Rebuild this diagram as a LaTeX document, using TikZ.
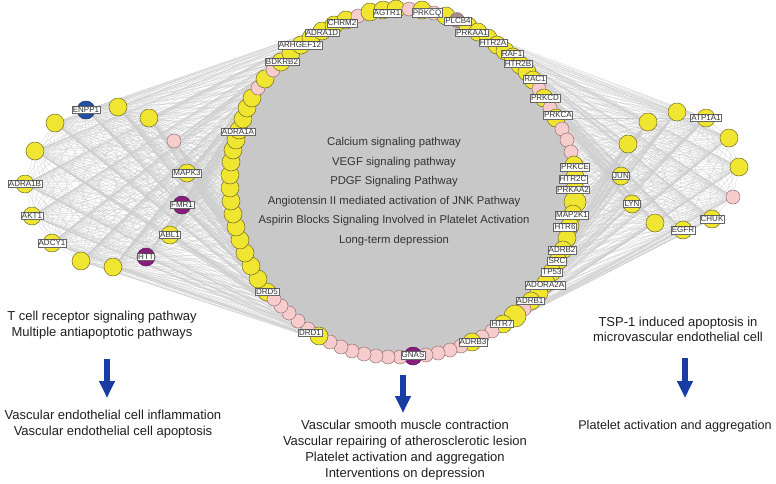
\documentclass[tikz,border=0pt]{standalone}
\usepackage{fontspec}
\setmainfont{Liberation Sans}
\usetikzlibrary{arrows.meta}

\pgfdeclarelayer{edges}
\pgfdeclarelayer{hub}
\pgfsetlayers{edges,hub,main}

\definecolor{geneyellow}{RGB}{240,230,50}
\definecolor{yelline}{RGB}{115,108,40}
\definecolor{genepink}{RGB}{246,204,204}
\definecolor{pnkline}{RGB}{150,112,112}
\definecolor{genepurple}{RGB}{135,30,125}
\definecolor{prpline}{RGB}{90,20,80}
\definecolor{geneblue}{RGB}{35,80,160}
\definecolor{bluline}{RGB}{20,45,100}
\definecolor{genegray}{RGB}{165,142,142}
\definecolor{arrowblue}{RGB}{25,60,165}
\definecolor{hubgray}{RGB}{200,200,200}
\definecolor{linkgray}{RGB}{205,205,205}

\tikzset{
  gene/.style={circle, inner sep=0pt, minimum size=18pt, line width=0.5pt},
  yel/.style={gene, draw=yelline, fill=geneyellow},
  bigyel/.style={yel, minimum size=22pt},
  pnk/.style={gene, draw=pnkline, fill=genepink, minimum size=14pt},
  prp/.style={gene, draw=prpline, fill=genepurple},
  blu/.style={gene, draw=bluline, fill=geneblue},
  gry/.style={gene, draw=pnkline, fill=genegray, minimum size=15pt},
  tag/.style={draw=black!60, fill=white, inner sep=0.9pt, line width=0.4pt,
    font=\fontsize{8}{8}\selectfont, text=black!80},
  link/.style={draw=linkgray, line width=0.25pt},
  pathway/.style={align=center, text=black!80, font=\fontsize{11.3}{19.5}\selectfont},
  effect/.style={align=center, text=black!88, font=\fontsize{13}{16}\selectfont},
  bigarrow/.style={draw=arrowblue, line width=5.5pt, -{Triangle[length=17pt,width=15pt]}}
}

\begin{document}
\begin{tikzpicture}[x=1pt,y=-1pt]
\useasboundingbox (0,0) rectangle (776,483);

% central module, clockwise from DRD5
\foreach \x/\y/\s [count=\i] in {
  267/292/yel, 258/279/yel, 251/266/yel, 245/253/yel, 240/240/yel,
  236/227/yel, 233/214/yel, 231/201/yel, 230/188/yel, 230/175/yel,
  231/162/yel, 233/150/yel, 236/140/yel, 239/130/yel, 243/119/yel,
  247/108/yel, 252/98/yel, 258/88/pnk, 265/79/yel, 273/70/pnk,
  281/62/yel, 291/53/yel, 301/45/yel, 311/38/yel, 322/31/yel,
  334/25/yel, 346/20/yel, 358/16/pnk, 370/12/yel, 383/10/yel,
  396/9/yel, 409/9/pnk, 422/10/yel, 434/13/pnk, 446/16/yel,
  457/20/gry, 468/26/yel, 478/32/yel, 488/38/yel, 497/45/yel,
  505/51/yel, 513/57/yel, 520/65/yel, 527/72/yel, 533/80/yel,
  539/89/pnk, 544/98/yel, 550/108/pnk, 556/118/yel, 562/129/pnk,
  567/140/pnk, 571/152/pnk, 574/165/yel, 575/177/yel, 575/189/yel,
  575/202/bigyel, 573/214/yel, 570/226/yel, 567/238/yel, 563/250/yel,
  558/261/yel, 552/272/yel, 546/283/yel, 539/293/yel, 531/301/yel,
  524/309/pnk, 515/316/bigyel, 503/324/yel, 492/331/pnk, 482/337/pnk,
  472/342/yel, 461/346/pnk, 450/350/pnk, 438/353/pnk, 426/355/pnk,
  413/356/prp, 400/357/pnk, 388/357/pnk, 376/356/pnk, 364/354/pnk,
  352/351/pnk, 341/347/pnk, 330/342/pnk, 319/336/yel, 308/329/pnk,
  298/321/pnk, 289/313/pnk, 281/306/pnk, 274/299/pnk}
  \node[\s] (r\i) at (\x,\y) {};

% left module
\node[blu] (l1) at (86,110) {};
\node[yel] (l2) at (118,107) {};
\node[yel] (l3) at (149,118) {};
\node[yel] (l4) at (55,123) {};
\node[yel] (l5) at (35,151) {};
\node[pnk] (l6) at (174,141) {};
\node[yel] (l7) at (25,184) {};
\node[yel] (l8) at (187,173) {};
\node[prp] (l9) at (182,205) {};
\node[yel] (l10) at (32,216) {};
\node[yel] (l11) at (170,235) {};
\node[yel] (l12) at (52,243) {};
\node[prp] (l13) at (146,257) {};
\node[yel] (l14) at (81,261) {};
\node[yel] (l15) at (113,267) {};

% right module
\node[yel] (q1) at (648,122) {};
\node[yel] (q2) at (677,112) {};
\node[yel] (q3) at (706,118) {};
\node[yel] (q4) at (628,144) {};
\node[yel] (q5) at (729,138) {};
\node[yel] (q6) at (739,167) {};
\node[yel] (q7) at (621,176) {};
\node[pnk] (q8) at (733,197) {};
\node[yel] (q9) at (632,204) {};
\node[yel] (q10) at (655,223) {};
\node[yel] (q11) at (683,230) {};
\node[yel] (q12) at (712,219) {};

% gene tags
\node[tag] (tENPP1) at (l1) {ENPP1};
\node[tag] (tADRA1B) at (l7) {ADRA1B};
\node[tag] (tMAPK3) at (l8) {MAPK3};
\node[tag] (tFMR1) at (l9) {FMR1};
\node[tag] (tAKT1) at (l10) {AKT1};
\node[tag] (tABL1) at (l11) {ABL1};
\node[tag] (tADCY1) at (l12) {ADCY1};
\node[tag] (tHTT) at (l13) {HTT};
\node[tag] (tATP1A1) at (q3) {ATP1A1};
\node[tag] (tJUN) at (q7) {JUN};
\node[tag] (tLYN) at (q9) {LYN};
\node[tag] (tEGFR) at (q11) {EGFR};
\node[tag] (tCHUK) at (q12) {CHUK};
\foreach \x/\y/\g in {
  238/132/ADRA1A, 282/62/BDKRB2, 300/45/ARHGEF12, 322/33/ADRA1D,
  342/23/CHRM2, 387/13/AGTR1, 427/13/PRKCQ, 458/21/PLCB4,
  472/33/PRKAA1, 493/43/HTR2A, 512/54/RAF1, 518/64/HTR2B,
  535/79/RAC1, 545/98/PRKCD, 558/115/PRKCA, 575/167/PRKCE,
  573/179/HTR2C, 573/190/PRKAA2, 572/215/MAP2K1, 565/227/HTR6,
  562/250/ADRB2, 557/261/SRC, 552/272/TP53, 545/285/ADORA2A,
  530/301/ADRB1, 502/324/HTR7, 473/342/ADRB3, 413/355/GNAS,
  310/333/DRD1, 267/292/DRD5}
  \node[tag] (t\g) at (\x,\y) {\g};

% dense interior of the central module
\begin{pgfonlayer}{hub}
\fill[hubgray] (r1.center) \foreach \i in {2,...,89} {-- (r\i.center)} -- cycle;
\end{pgfonlayer}

% interactions
\begin{pgfonlayer}{edges}
\foreach \a in {1,...,15} {
  \foreach \b in {1,...,27} \draw[link] (l\a) -- (r\b);
  \foreach \b in {80,...,89} \draw[link] (l\a) -- (r\b);
}
\foreach \a in {1,...,14} {
  \pgfmathtruncatemacro{\c}{\a+1}
  \foreach \b in {\c,...,15} \draw[link] (l\a) -- (l\b);
}
\foreach \a in {1,...,12}
  \foreach \b in {38,...,72} \draw[link] (q\a) -- (r\b);
\foreach \a in {1,...,11} {
  \pgfmathtruncatemacro{\c}{\a+1}
  \foreach \b in {\c,...,12} \draw[link] (q\a) -- (q\b);
}
\end{pgfonlayer}

% pathways and effects
\node[pathway] (pathways) at (394,191.5) {Calcium signaling pathway\\
  VEGF signaling pathway\\ PDGF Signaling Pathway\\
  Angiotensin II mediated activation of JNK Pathway\\
  Aspirin Blocks Signaling Involved in Platelet Activation\\
  Long-term depression};

\node[effect] (lpath) at (102,325) {T cell receptor signaling pathway\\
  Multiple antiapoptotic pathways};
\node[effect] (leff) at (113,424.5) {Vascular endothelial cell inflammation\\
  Vascular endothelial cell apoptosis};
\node[effect] (ceff) at (405,450.5) {Vascular smooth muscle contraction\\
  Vascular repairing of atherosclerotic lesion\\
  Platelet activation and aggregation\\ Interventions on depression};
\node[effect, font=\fontsize{13}{15}\selectfont] (rpath) at (678,329.5)
  {TSP-1 induced apoptosis in\\ microvascular endothelial cell};
\node[effect, font=\fontsize{12.6}{15}\selectfont] (reff) at (675,426)
  {Platelet activation and aggregation};

\coordinate (la1) at (107,359);
\coordinate (la2) at (107,398);
\coordinate (ca1) at (403,375);
\coordinate (ca2) at (403,413);
\coordinate (ra1) at (685,358);
\coordinate (ra2) at (685,398);
\draw[bigarrow] (la1) -- (la2);
\draw[bigarrow] (ca1) -- (ca2);
\draw[bigarrow] (ra1) -- (ra2);
\end{tikzpicture}
\end{document}
